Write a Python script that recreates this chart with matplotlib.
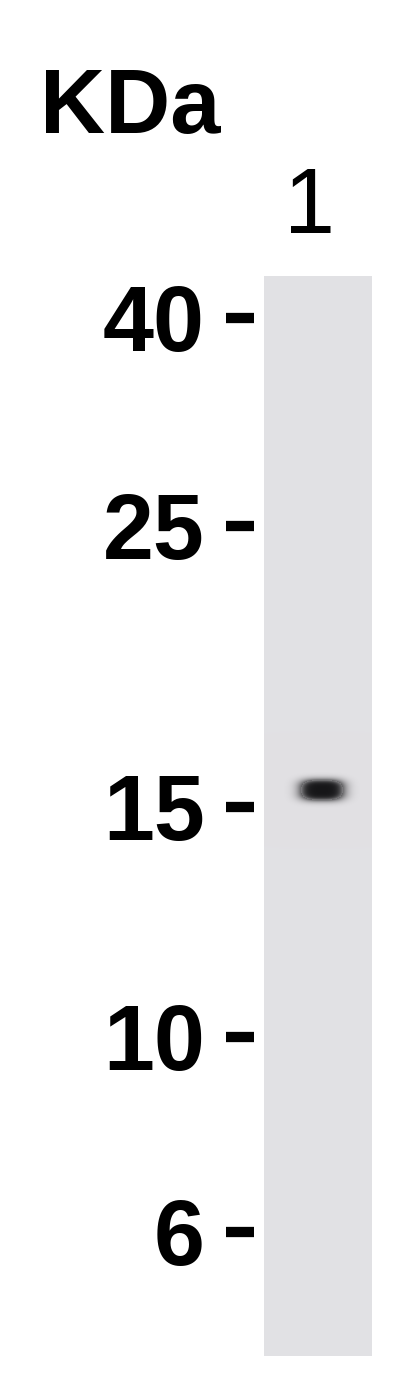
import numpy as np
import matplotlib.pyplot as plt

# marcadores de peso molecular (kDa) y su posicion en el gel (pixeles desde arriba)
marker_labels = ['40', '25', '15', '10', '6']
marker_pos = [318, 526, 807, 1037, 1232]

lane_labels = ['1']
lane_left = [264]
lane_right = [372]
lane_top = 276
lane_bottom = 1356

# banda detectada en el carril 1: centro y tamanio (pixeles)
band_x = [322]
band_y = [790]
band_w = [46]
band_h = [22]

W, H = 417, 1392
fig = plt.figure(figsize=(W / 100, H / 100), dpi=100)
ax = fig.add_axes([0, 0, 1, 1])
ax.set_xlim(0, W)
ax.set_ylim(H, 0)
ax.axis('off')

lane_rgb = np.array([226, 225, 228]) / 255.
dark_rgb = np.array([22, 22, 24]) / 255.

for i in range(len(lane_labels)):
    x0, x1 = lane_left[i], lane_right[i]
    xs = np.arange(x0, x1) + 0.5
    ys = np.arange(lane_top, lane_bottom) + 0.5
    X, Y = np.meshgrid(xs, ys)
    r = (np.abs((X - band_x[i]) / (band_w[i] / 2)) ** 3 +
         np.abs((Y - band_y[i]) / (band_h[i] / 2)) ** 3) ** (1 / 3.)
    # nucleo oscuro + halo suave
    d = 1 / (1 + np.exp((r - 0.9) / 0.12))
    d = np.clip(d + 0.12 * np.exp(-((r - 1.0) / 0.35) ** 2) * (r > 0.9), 0, 1)
    img = lane_rgb[None, None, :] * (1 - d[..., None]) + dark_rgb[None, None, :] * d[..., None]
    ax.imshow(img, extent=[x0, x1, lane_bottom, lane_top], interpolation='bilinear', zorder=1)
    ax.text((x0 + x1) / 2 - 8, 233, lane_labels[i], ha='center', va='baseline',
            fontsize=66, family='Liberation Sans', color='black')

ax.set_xlim(0, W)
ax.set_ylim(H, 0)

# guiones y etiquetas de los marcadores
ax.hlines(marker_pos, 226, 254, colors='black', linewidth=7.4, capstyle='butt')
for lab, y in zip(marker_labels, marker_pos):
    ax.text(205, y + 33, lab, ha='right', va='baseline', fontsize=66,
            fontweight='bold', family='Liberation Sans', color='black')

ax.text(40, 133, 'KDa', ha='left', va='baseline', fontsize=65,
        fontweight='bold', family='Liberation Sans', color='black')

plt.savefig('out.png', dpi=100)
